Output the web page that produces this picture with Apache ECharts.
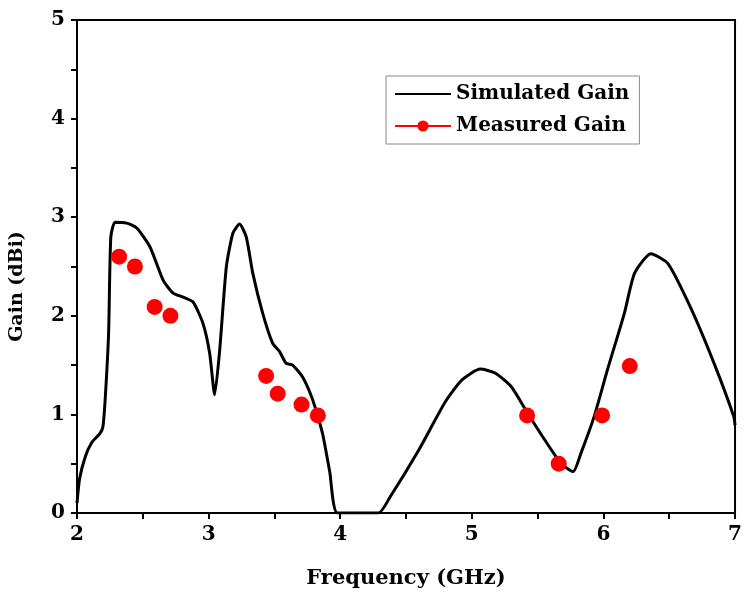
<!DOCTYPE html>
<html>
<head>
<meta charset="utf-8">
<script src="https://cdn.jsdelivr.net/npm/echarts@6/dist/echarts.min.js"></script>
<style>
  html, body { margin: 0; padding: 0; background: #fff; }
  #chart { width: 745px; height: 605px; }
</style>
</head>
<body>
<div id="chart"></div>
<script>
// simulated gain curve (GHz, dBi)
const simFreq = [2.0, 2.02, 2.063, 2.11, 2.176, 2.197, 2.214, 2.24, 2.257, 2.29, 2.378, 2.454, 2.554, 2.655, 2.73, 2.806, 2.882, 2.958, 3.008, 3.046, 3.084, 3.135, 3.185, 3.235, 3.286, 3.336, 3.41, 3.487, 3.538, 3.588, 3.638, 3.714, 3.79, 3.865, 3.92, 3.98, 4.29, 4.38, 4.597, 4.8, 4.925, 5.064, 5.177, 5.3, 5.416, 5.555, 5.68, 5.77, 5.83, 5.93, 6.03, 6.16, 6.236, 6.36, 6.49, 6.66, 6.84, 6.99, 7.0]
const simGain = [0.1, 0.35, 0.57, 0.71, 0.81, 0.875, 1.15, 1.82, 2.8, 2.95, 2.94, 2.89, 2.7, 2.36, 2.23, 2.19, 2.14, 1.92, 1.62, 1.2, 1.65, 2.5, 2.84, 2.93, 2.8, 2.43, 2.03, 1.72, 1.64, 1.52, 1.5, 1.38, 1.15, 0.81, 0.42, 0.0, 0.0, 0.165, 0.64, 1.13, 1.35, 1.46, 1.42, 1.28, 1.03, 0.74, 0.5, 0.42, 0.61, 0.98, 1.45, 2.03, 2.43, 2.63, 2.53, 2.09, 1.52, 0.98, 0.89]

// measured gain points
const measFreq = [2.32, 2.44, 2.59, 2.71, 3.437, 3.525, 3.706, 3.83, 5.42, 5.66, 5.99, 6.2]
const measGain = [2.6, 2.5, 2.09, 2.0, 1.39, 1.21, 1.1, 0.99, 0.99, 0.5, 0.99, 1.49]

const xTicks = [2, 3, 4, 5, 6, 7]
const yTicks = [0, 1, 2, 3, 4, 5]

const font = 'DejaVu Serif'

const myChart = echarts.init(document.getElementById('chart'))
const option = {
  animation: false,
  backgroundColor: '#fff',
  grid: {
    left: 77,
    right: 7,
    top: 20,
    bottom: 92,
    show: true,
    borderColor: '#000',
    borderWidth: 2,
  },
  legend: {
    orient: 'vertical',
    left: 386,
    top: 76,
    padding: [8, 10, 8, 8],
    itemGap: 12,
    itemWidth: 56,
    itemHeight: 14,
    borderColor: '#888',
    borderWidth: 1,
    textStyle: { fontFamily: font, fontWeight: 'bold', fontSize: 20, color: '#000' },
    data: [
      { name: 'Simulated Gain', itemStyle: { opacity: 0 } },
      {
        name: 'Measured Gain',
        lineStyle: { color: '#f00', width: 2, opacity: 1 },
      },
    ],
  },
  xAxis: {
    type: 'value',
    min: xTicks[0],
    max: xTicks[xTicks.length - 1],
    interval: 1,
    name: 'Frequency (GHz)',
    nameLocation: 'middle',
    nameGap: 55,
    nameTextStyle: { fontFamily: font, fontWeight: 'bold', fontSize: 21, color: '#000' },
    axisLine: { lineStyle: { color: '#000', width: 2 } },
    axisTick: { show: true, length: 6, lineStyle: { color: '#000', width: 2 } },
    minorTick: { show: true, splitNumber: 2, length: 6, lineStyle: { color: '#000', width: 2 } },
    axisLabel: { fontFamily: font, fontWeight: 'bold', fontSize: 20, color: '#000', margin: 12 },
    splitLine: { show: false },
  },
  yAxis: {
    type: 'value',
    min: yTicks[0],
    max: yTicks[yTicks.length - 1],
    interval: 1,
    name: 'Gain (dBi)',
    nameLocation: 'middle',
    nameGap: 50,
    nameTextStyle: { fontFamily: font, fontWeight: 'bold', fontSize: 19, color: '#000', padding: [0, 40, 0, 0] },
    axisLine: { lineStyle: { color: '#000', width: 2 } },
    axisTick: { show: true, length: 6, lineStyle: { color: '#000', width: 2 } },
    minorTick: { show: true, splitNumber: 2, length: 6, lineStyle: { color: '#000', width: 2 } },
    axisLabel: { fontFamily: font, fontWeight: 'bold', fontSize: 20, color: '#000', margin: 12 },
    splitLine: { show: false },
  },
  series: [
    {
      name: 'Simulated Gain',
      type: 'line',
      data: simFreq.map((f, i) => [f, simGain[i]]),
      symbol: 'none',
      smooth: 0.2,
      color: '#000',
      lineStyle: { color: '#000', width: 3 },
      z: 2,
    },
    {
      name: 'Measured Gain',
      type: 'line',
      data: measFreq.map((f, i) => [f, measGain[i]]),
      symbol: 'circle',
      symbolSize: 16,
      color: '#f00',
      itemStyle: { color: '#f00' },
      lineStyle: { width: 0, opacity: 0 },
      z: 3,
    },
  ],
}
myChart.setOption(option)
</script>
</body>
</html>
